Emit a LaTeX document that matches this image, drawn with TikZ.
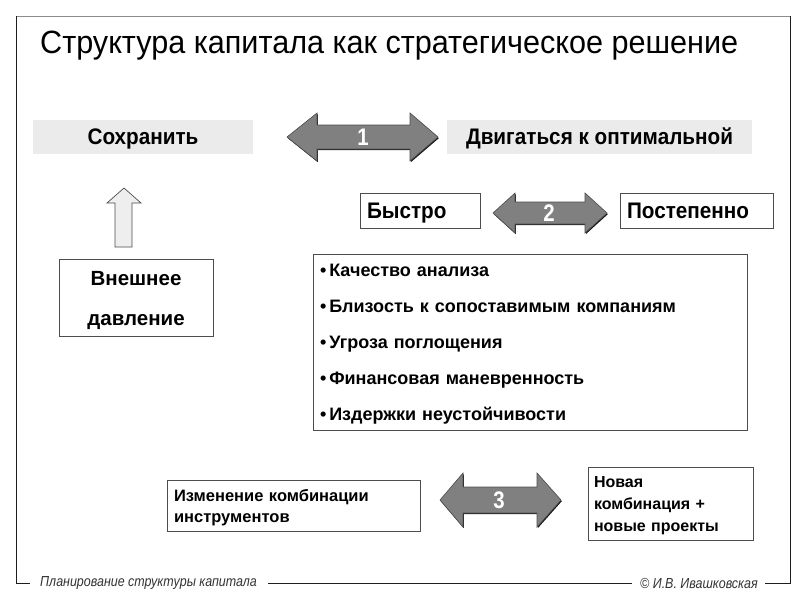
\documentclass[tikz,border=0pt]{standalone}
\usepackage{fontspec}
\setmainfont{Liberation Sans}
\newfontfamily\narrowfont[FakeStretch=0.92]{Liberation Sans}
\newfontfamily\titlefont[FakeStretch=0.95]{Liberation Sans}
\newfontfamily\footfont[FakeStretch=0.86]{Liberation Sans}
\newfontfamily\numfont[FakeStretch=0.85]{Liberation Sans}
\usetikzlibrary{shadows}
\definecolor{boxgray}{HTML}{EBEBEB}
\definecolor{arrgray}{HTML}{808080}
\definecolor{arredge}{HTML}{4D4D4D}
\definecolor{upfill}{HTML}{EEEEEE}
\definecolor{framegray}{HTML}{8C8C8C}
\definecolor{framedark}{HTML}{1E1E1E}
\definecolor{footgray}{HTML}{333333}
\tikzset{
  graybox/.style={fill=boxgray, draw=none, inner sep=0pt, text height=15.5pt, text depth=0pt, font=\narrowfont\bfseries\fontsize{22.5}{26}\selectfont},
  whitebox/.style={fill=white, draw=arredge, line width=0.8pt, inner sep=0pt},
  narrowbox/.style={whitebox, align=left, text height=15pt, text depth=0pt, font=\narrowfont\bfseries\fontsize{22.5}{26}\selectfont},
  boxtext/.style={inner sep=0pt, align=left},
  dblarr/.style={fill=arrgray, draw=arredge, line width=0.6pt, drop shadow={shadow xshift=0.8pt, shadow yshift=-1.2pt, fill=black, opacity=0.9}},
  arrlabel/.style={text=white, inner sep=0pt, font=\numfont\bfseries\fontsize{24}{28}\selectfont},
  framestyle/.style={line width=0.9pt},
  foottext/.style={text=footgray, inner sep=0pt, anchor=west, font=\footfont\itshape\fontsize{14.5}{17}\selectfont},
}
\begin{document}
\begin{tikzpicture}[x=1pt,y=-1pt]
\useasboundingbox (0,0) rectangle (800,600);
\fill[white] (0,0) rectangle (800,600);
% frame
\draw[framestyle, draw=framegray] (16,16) -- (790,16);
\draw[framestyle, draw=framedark] (16,16) -- (16,583) -- (30,583);
\draw[framestyle, draw=framedark] (790,16) -- (790,583) -- (765,583);
\node[foottext] (fl) at (40,583.5) {Планирование структуры капитала};
\node[foottext] (fr) at (640,583.5) {© И.В. Ивашковская};
\draw[framestyle, draw=framedark] (268,583) -- (632,583);
% title
\node[anchor=west, inner sep=0pt, font=\titlefont\fontsize{32.2}{38}\selectfont] (title) at (40,46) {Структура капитала как стратегическое решение};
% row 1
\node[graybox, minimum width=220pt, minimum height=34pt] (keep) at (143,137) {Сохранить};
\node[graybox, minimum width=305pt, minimum height=34pt] (move) at (599.5,137) {Двигаться к оптимальной};
\path[dblarr] (287,137) -- (317,113) -- (317,125) -- (410,125) -- (410,113) -- (438,137) -- (410,161) -- (410,149) -- (317,149) -- (317,161) -- cycle;
\node[arrlabel] (a1) at (363,137) {1};
% up arrow
\path[fill=upfill, draw=arredge, line width=0.7pt] (124,188) -- (141,203) -- (132,203) -- (132,247) -- (115,247) -- (115,203) -- (107,203) -- cycle;
% external pressure
\node[whitebox, minimum width=154pt, minimum height=77pt] (press) at (136,297.5) {};
\node[boxtext, align=center, font=\bfseries\fontsize{20.5}{40}\selectfont] (pressT) at ([yshift=-2.5pt]press.center) {Внешнее\\давление};
% row 2
\node[narrowbox, minimum width=120pt, minimum height=35pt, text width=106pt] (fast) at (420,210.5) {Быстро};
\node[narrowbox, minimum width=153pt, minimum height=35pt, text width=139pt] (slow) at (696.5,210.5) {Постепенно};
\path[dblarr] (493,213) -- (515,193) -- (515,202) -- (585,202) -- (585,193) -- (607,213) -- (585,233) -- (585,224) -- (515,224) -- (515,233) -- cycle;
\node[arrlabel] (a2) at (549,213) {2};
% list
\node[whitebox, minimum width=434pt, minimum height=176pt] (list) at (530,342) {};
\node[boxtext, text width=420pt, font=\bfseries\fontsize{18}{36}\selectfont] (listT) at ([yshift=-2pt]list.center) {•\,Качество анализа\\•\,Близость к сопоставимым компаниям\\•\,Угроза поглощения\\•\,Финансовая маневренность\\•\,Издержки неустойчивости};
% row 3
\node[whitebox, minimum width=253pt, minimum height=51pt] (change) at (293.5,505.5) {};
\node[boxtext, text width=239pt, font=\bfseries\fontsize{16.5}{21}\selectfont] (changeT) at ([yshift=-2pt]change.center) {Изменение\ комбинации\\инструментов};
\node[whitebox, minimum width=165pt, minimum height=73pt] (newc) at (670.5,503.5) {};
\node[boxtext, text width=153pt, font=\bfseries\fontsize{16}{22}\selectfont] (newcT) at ([yshift=-2pt]newc.center) {Новая\\комбинация +\\новые проекты};
\path[dblarr] (440,500) -- (463,473) -- (463,487) -- (537,487) -- (537,473) -- (561,500) -- (537,527) -- (537,513) -- (463,513) -- (463,527) -- cycle;
\node[arrlabel] (a3) at (499,500) {3};
\end{tikzpicture}
\end{document}
